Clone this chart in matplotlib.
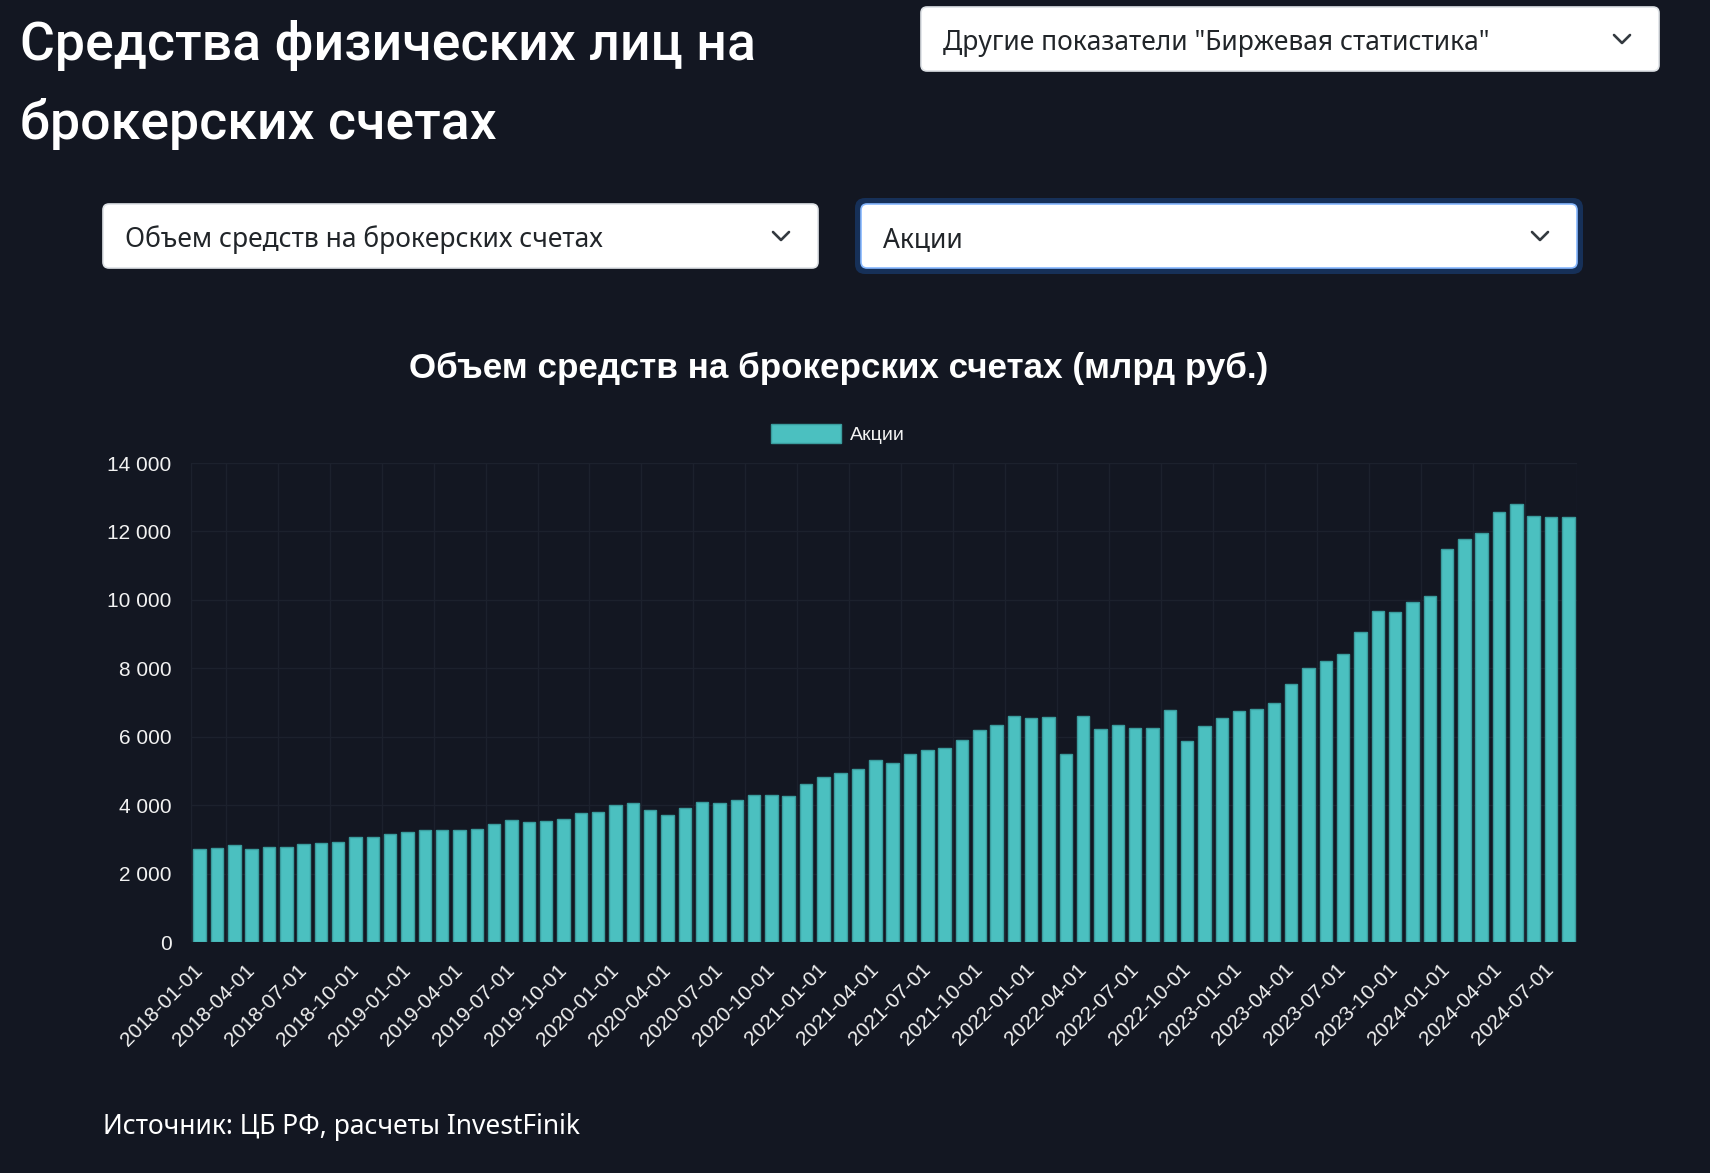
import matplotlib
matplotlib.use("Agg")
import matplotlib.pyplot as plt
from matplotlib.patches import FancyBboxPatch
from matplotlib.ticker import FuncFormatter
import numpy as np

# ---------------- data ----------------
months = [f"{y}-{m:02d}-01" for y in range(2018, 2025) for m in range(1, 13)][:80]
values = [
    2730, 2760, 2845, 2730, 2790, 2790, 2875, 2905, 2930, 3080, 3080, 3155,   # 2018
    3205, 3285, 3265, 3285, 3300, 3440, 3575, 3500, 3545, 3595, 3780, 3810,   # 2019
    4015, 4070, 3850, 3710, 3925, 4090, 4065, 4160, 4295, 4295, 4265, 4620,   # 2020
    4825, 4950, 5055, 5320, 5240, 5485, 5620, 5670, 5895, 6205, 6335, 6605,   # 2021
    6555, 6565, 5485, 6610, 6215, 6330, 6265, 6265, 6780, 5885, 6315, 6535,   # 2022
    6740, 6810, 6995, 7540, 8000, 8225, 8420, 9060, 9665, 9635, 9930, 10115,  # 2023
    11485, 11790, 11945, 12570, 12800, 12460, 12430, 12420,                   # 2024
]
series_name = "Акции"
page_title = ["Средства физических лиц на", "брокерских счетах"]
chart_title = "Объем средств на брокерских счетах (млрд руб.)"
dropdown_top = 'Другие показатели "Биржевая статистика"'
dropdown_left = "Объем средств на брокерских счетах"
dropdown_right = "Акции"
source_text = "Источник: ЦБ РФ, расчеты InvestFinik"
y_ticks = [0, 2000, 4000, 6000, 8000, 10000, 12000, 14000]

# ---------------- style ----------------
W, H = 1710, 1173
BG = "#131722"
BAR = "#4bc0c0"
BAR_EDGE = "#3a9c9d"
GRID = "#1c212d"
TXT = "#f2f2f2"
UI_FONT = ["Noto Sans", "DejaVu Sans"]
TITLE_FONT = ["Roboto", "Noto Sans", "DejaVu Sans"]
CH_FONT = ["Liberation Sans", "DejaVu Sans"]

fig = plt.figure(figsize=(W / 100, H / 100), dpi=100, facecolor=BG)

# overlay axes in pixel coordinates for page elements
ov = fig.add_axes([0, 0, 1, 1], zorder=0)
ov.set_xlim(0, W)
ov.set_ylim(H, 0)
ov.axis("off")
ov.set_facecolor("none")

# page title
ov.text(20, 60, page_title[0], fontsize=38.5, fontweight="medium", color="white",
        family=TITLE_FONT, va="baseline", ha="left")
ov.text(20, 139, page_title[1], fontsize=38.5, fontweight="medium", color="white",
        family=TITLE_FONT, va="baseline", ha="left")


def dropdown(x0, y0, x1, y1, label, focus=False):
    if focus:
        ov.add_patch(FancyBboxPatch((x0 - 6, y0 - 6), x1 - x0 + 12, y1 - y0 + 12,
                                    boxstyle="round,pad=0,rounding_size=10",
                                    facecolor="#163058", edgecolor="none"))
    ov.add_patch(FancyBboxPatch((x0, y0), x1 - x0, y1 - y0,
                                boxstyle="round,pad=0,rounding_size=6",
                                facecolor="white",
                                edgecolor="#86b7fe" if focus else "#dee2e6",
                                linewidth=1.2))
    cy = (y0 + y1) / 2
    ov.text(x0 + 22, cy + 4, label, fontsize=19, color="#212529", family=UI_FONT,
            va="center", ha="left")
    cx = x1 - 37
    ov.plot([cx - 8, cx, cx + 8], [cy - 4, cy + 4, cy - 4], color="#343a40",
            linewidth=1.9, solid_capstyle="round", solid_joinstyle="round")


dropdown(921, 7, 1659, 71, dropdown_top)
dropdown(103, 204, 818, 268, dropdown_left)
dropdown(861, 204, 1577, 268, dropdown_right, focus=True)

# source
ov.text(103, 1134, source_text, fontsize=19, color="white", family=UI_FONT,
        va="baseline", ha="left")

# chart title
ov.text(839, 378, chart_title, fontsize=25.2, fontweight="bold", color="white",
        family=CH_FONT, va="baseline", ha="center")

# ---------------- chart ----------------
left, right, top, bottom = 191, 1577, 463, 942
ax = fig.add_axes([left / W, 1 - bottom / H, (right - left) / W, (bottom - top) / H], zorder=1)
ax.set_facecolor("none")

x = np.arange(len(values))
bars = ax.bar(x, values, width=0.72, color=BAR, edgecolor=BAR_EDGE, linewidth=1.0,
              label=series_name, zorder=3)

ax.set_xlim(-0.5, len(values) - 0.5)
ax.set_ylim(0, 14000)
ax.set_yticks(y_ticks)
ax.yaxis.set_major_formatter(FuncFormatter(lambda v, p: f"{int(v):,}".replace(",", " ")))

tick_idx = x[::3]
ax.set_xticks(tick_idx)
ax.set_xticklabels([months[i] for i in tick_idx], rotation=45, ha="right",
                   rotation_mode="anchor", va="center")

# grid lines
for gx in list(tick_idx[1:] - 1.5) + [-0.5, len(values) - 0.5]:
    ax.axvline(gx, color=GRID, linewidth=1.0, zorder=1)
for gy in y_ticks:
    ax.axhline(gy, color=GRID, linewidth=1.0, zorder=1)

for s in ax.spines.values():
    s.set_visible(False)
ax.tick_params(axis="y", length=0, pad=14, labelsize=15, labelcolor=TXT)
ax.tick_params(axis="x", length=0, pad=18, labelsize=15, labelcolor=TXT)
for lab in ax.get_xticklabels() + ax.get_yticklabels():
    lab.set_family(CH_FONT)

leg = fig.legend(handles=[bars], labels=[series_name], loc="center",
                 bbox_to_anchor=(838 / W, 1 - 434 / H), frameon=False,
                 handlelength=3.6, handleheight=1.1, handletextpad=0.5,
                 prop={"family": CH_FONT, "size": 14})
for t in leg.get_texts():
    t.set_color(TXT)

fig.savefig("out.png", dpi=100, facecolor=BG)
